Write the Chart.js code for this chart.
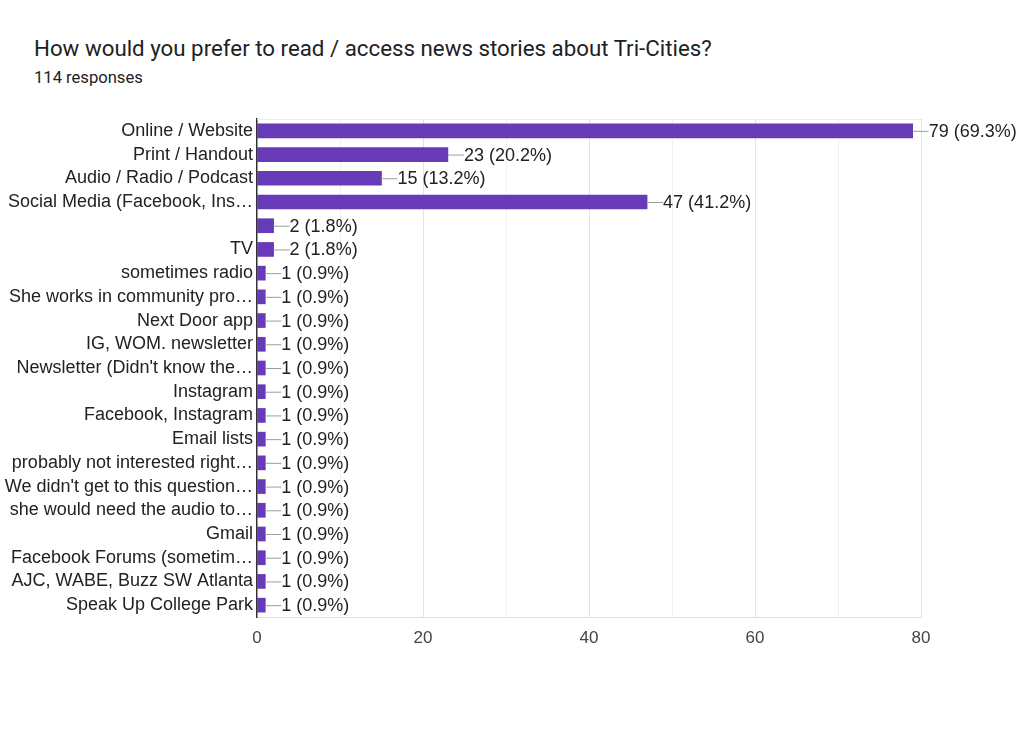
<!DOCTYPE html>
<html><head><meta charset="utf-8">
<script src="https://cdn.jsdelivr.net/npm/chart.js@4/dist/chart.umd.min.js"></script>
<style>
html,body{margin:0;padding:0;background:#fff;width:1024px;height:739px;overflow:hidden;}
#title{position:absolute;left:34px;top:35px;font-family:Roboto,"Noto Sans",sans-serif;font-size:22.3px;color:#202124;white-space:nowrap;}
#sub{position:absolute;left:34px;top:68px;font-family:Roboto,"Noto Sans",sans-serif;font-size:16.6px;color:#202124;white-space:nowrap;}
#wrap{position:absolute;left:0;top:0;width:1024px;height:739px;}
</style></head><body>
<div id="title">How would you prefer to read / access news stories about Tri-Cities?</div>
<div id="sub">114 responses</div>
<div id="wrap"><canvas id="c" width="1024" height="739"></canvas></div>
<script>
const categories = ["Online / Website","Print / Handout","Audio / Radio / Podcast","Social Media (Facebook, Ins\u2026","","TV","sometimes radio","She works in community pro\u2026","Next Door app","IG, WOM. newsletter","Newsletter (Didn't know the\u2026","Instagram","Facebook, Instagram","Email lists","probably not interested right\u2026","We didn't get to this question\u2026","she would need the audio to\u2026","Gmail","Facebook Forums (sometim\u2026","AJC, WABE, Buzz SW Atlanta","Speak Up College Park"];
const counts = [79,23,15,47,2,2,1,1,1,1,1,1,1,1,1,1,1,1,1,1,1];
const percents = ["69.3%","20.2%","13.2%","41.2%","1.8%","1.8%","0.9%","0.9%","0.9%","0.9%","0.9%","0.9%","0.9%","0.9%","0.9%","0.9%","0.9%","0.9%","0.9%","0.9%","0.9%"];
const xTicks = [0,20,40,60,80];

const FONT = '"Liberation Sans", Arial, sans-serif';

const labelPlugin = {
  id:'barLabels',
  afterDatasetsDraw(chart){
    const ctx = chart.ctx;
    const meta = chart.getDatasetMeta(0);
    ctx.save();
    meta.data.forEach((bar,i)=>{
      const x = bar.x, y = bar.y;
      ctx.strokeStyle = '#9e9e9e';
      ctx.lineWidth = 1;
      ctx.beginPath();
      ctx.moveTo(x, y+0.5);
      ctx.lineTo(x+16, y+0.5);
      ctx.stroke();
      ctx.fillStyle = '#222';
      ctx.font = '18px ' + FONT;
      ctx.textBaseline = 'middle';
      ctx.textAlign = 'left';
      ctx.fillText(counts[i] + ' (' + percents[i] + ')', x+16, y+1);
    });
    ctx.restore();
  }
};

const topLine = {
  id:'topLine',
  beforeDatasetsDraw(chart){
    const a = chart.chartArea, ctx = chart.ctx;
    ctx.save();
    ctx.strokeStyle = '#eeeeee';
    ctx.lineWidth = 1;
    ctx.beginPath();
    ctx.moveTo(a.left, a.top+0.5);
    ctx.lineTo(a.right, a.top+0.5);
    ctx.stroke();
    ctx.restore();
  }
};

new Chart(document.getElementById('c'), {
  type:'bar',
  data:{labels:categories, datasets:[{data:counts, backgroundColor:'#673ab7', borderWidth:0, barThickness:14}]},
  options:{
    indexAxis:'y',
    responsive:false,
    animation:false,
    layout:{padding:{top:119,left:0,right:103,bottom:92}},
    plugins:{legend:{display:false},tooltip:{enabled:false}},
    scales:{
      x:{
        min:0,max:80,
        ticks:{stepSize:10,autoSkip:false,maxRotation:0,color:'#444',font:{family:FONT,size:17},padding:11,
          callback:(v)=> xTicks.includes(v) ? String(v) : ''},
        grid:{drawTicks:false,color:(c)=> c.tick && c.tick.value===0 ? 'rgba(0,0,0,0)' : (c.tick && c.tick.value%20===0 ? '#e3e3e3' : '#f0f0f0')},
        border:{color:'#e0e0e0',width:1},
        afterFit:(s)=>{s.height=30;}
      },
      y:{
        ticks:{autoSkip:false,color:'#222',font:{family:FONT,size:18},padding:4},
        grid:{display:false,drawTicks:false},
        border:{color:'#333',width:1.5},
        afterFit:(s)=>{s.width=257;}
      }
    }
  },
  plugins:[labelPlugin, topLine]
});
</script>
</body></html>
